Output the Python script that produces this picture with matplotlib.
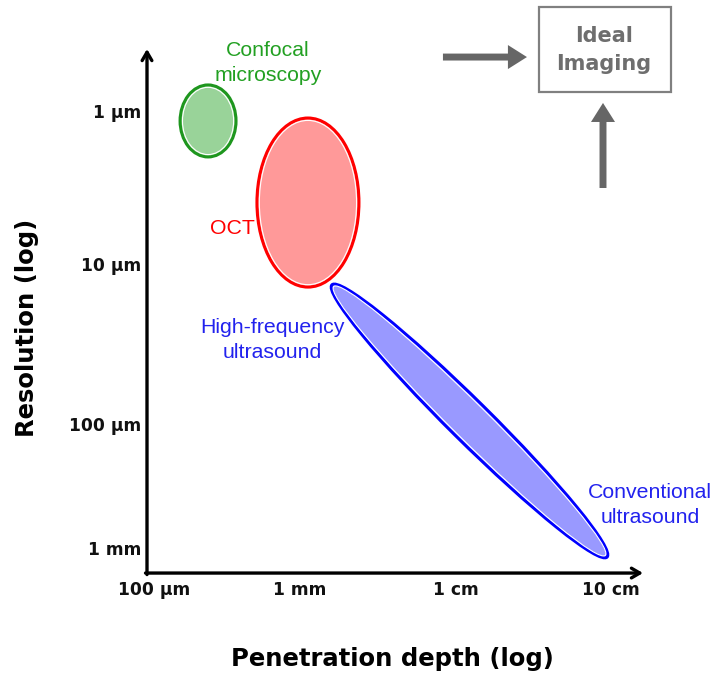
import matplotlib
matplotlib.use("Agg")
import matplotlib.pyplot as plt
from matplotlib.patches import Ellipse, Rectangle

# ---- data (log10 of metres) ----
modalities = ["Confocal microscopy", "OCT", "Ultrasound"]
center_depth = [-3.613, -2.947, -1.870]      # log10 penetration depth
center_res = [-5.947, -5.403, -3.947]        # log10 resolution
span_a = [0.373, 0.680, 2.580]               # ellipse extent (decades)
span_b = [0.480, 1.127, 0.270]
tilt = [0.0, 0.0, 44.7]

xtick_labels = ["100 \u00b5m", "1 mm", "1 cm", "10 cm"]
xtick_vals = [-3.973, -3.0, -1.96, -0.927]
ytick_labels = ["1 \u00b5m", "10 \u00b5m", "100 \u00b5m", "1 mm"]
ytick_vals = [-6.0, -4.98, -3.913, -3.087]

# ---- style ----
fills = ["#99d399", "#ff9999", "#9999ff"]
edges = ["#1e961e", "#ff0000", "#0000ff"]

fig = plt.figure(figsize=(7.12, 6.77), dpi=100)
ax = fig.add_axes([0, 0, 1, 1])
ax.set_xlim(-5, -5 + 712 / 150)
ax.set_ylim(-6 + 564 / 150, -6 - 113 / 150)
ax.axis("off")

inset = 0.016
for cx, cy, a, b, t, fc, ec in zip(center_depth, center_res, span_a, span_b, tilt, fills, edges):
    ax.add_patch(Ellipse((cx, cy), a, b, angle=t, facecolor=fc, edgecolor=ec, lw=2.2, zorder=2))
    ax.add_patch(Ellipse((cx, cy), a - 2 * inset, b - 2 * inset, angle=t, facecolor="none",
                         edgecolor="white", lw=0.8, zorder=3))

# axes arrows
x0, y0 = -4.02, -2.933
ax.annotate("", xy=(x0, -6.427), xytext=(x0, y0 + 0.01),
            arrowprops=dict(arrowstyle="->,head_length=0.6,head_width=0.35", lw=2.4, color="black",
                            shrinkA=0, shrinkB=0))
ax.annotate("", xy=(-0.713, y0), xytext=(x0 - 0.01, y0),
            arrowprops=dict(arrowstyle="->,head_length=0.6,head_width=0.35", lw=2.4, color="black",
                            shrinkA=0, shrinkB=0))

for lab, v in zip(xtick_labels, xtick_vals):
    ax.text(v, -2.82, lab, ha="center", va="center", fontsize=12.3, fontweight="bold", color="#111111")
for lab, v in zip(ytick_labels, ytick_vals):
    ax.text(-4.06, v, lab, ha="right", va="center", fontsize=12.3, fontweight="bold", color="#111111")

ax.text(-2.387, -2.36, "Penetration depth (log)", ha="center", va="center",
        fontsize=17.5, fontweight="bold")
ax.text(-4.82, -4.567, "Resolution (log)", ha="center", va="center", rotation=90,
        fontsize=17.5, fontweight="bold")

# region labels
lab_kw = dict(ha="center", va="center", fontsize=15.3, family="Liberation Sans", linespacing=1.35)
ax.text(-3.213, -6.333, "Confocal\nmicroscopy", color="#22a022", **lab_kw)
ax.text(-3.453, -5.227, "OCT", color="#ff0000", **lab_kw)
ax.text(-3.187, -4.487, "High-frequency\nultrasound", color="#2222ee", **lab_kw)
ax.text(-0.667, -3.387, "Conventional\nultrasound", color="#2222ee", **lab_kw)

# ideal imaging box and arrows
ax.add_patch(Rectangle((-1.407, -6.7067), 0.88, 0.567, facecolor="white", edgecolor="#808080", lw=1.6))
ax.text(-0.973, -6.42, "Ideal\nImaging", ha="center", va="center", fontsize=15,
        fontweight="bold", color="#6e6e6e", linespacing=1.5)
big = "simple,head_length=1.37,head_width=1.73,tail_width=0.5"
ax.annotate("", xy=(-1.487, -6.373), xytext=(-2.047, -6.373),
            arrowprops=dict(arrowstyle=big, color="#666666", lw=0, shrinkA=0, shrinkB=0))
ax.annotate("", xy=(-0.98, -6.067), xytext=(-0.98, -5.5),
            arrowprops=dict(arrowstyle=big, color="#666666", lw=0, shrinkA=0, shrinkB=0))

fig.savefig("out.png", dpi=100)
